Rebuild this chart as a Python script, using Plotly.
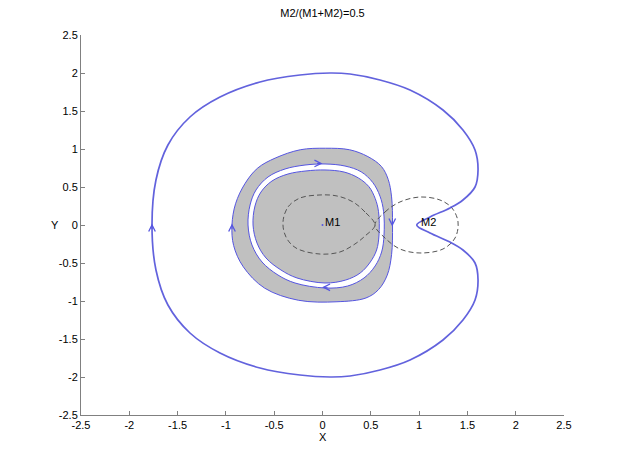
import math
import plotly.graph_objects as go

# ---- data ----
title_text = "M2/(M1+M2)=0.5"
tick_vals = [-2.5, -2, -1.5, -1, -0.5, 0, 0.5, 1, 1.5, 2, 2.5]
tick_text = ["-2.5", "-2", "-1.5", "-1", "-0.5", "0", "0.5", "1", "1.5", "2", "2.5"]

# large outer orbit (cusp at M2 -> top -> left -> bottom -> cusp)
orbit_x = [0.975, 1.113, 1.32, 1.454, 1.579, 1.61, 1.579, 1.454, 1.247, 0.906, 0.595, 0.285, 0.078,
           -0.233, -0.647, -1.061, -1.372, -1.6, -1.724, -1.765,
           -1.724, -1.6, -1.372, -1.061, -0.647, -0.233, 0.078, 0.285, 0.595, 0.906, 1.247, 1.454,
           1.579, 1.61, 1.579, 1.454, 1.32, 1.113, 0.975]
orbit_y = [0.0, 0.105, 0.224, 0.329, 0.5, 0.724, 0.987, 1.25, 1.513, 1.776, 1.908, 1.987, 2.0,
           1.974, 1.882, 1.684, 1.421, 1.053, 0.592, 0.0,
           -0.592, -1.053, -1.421, -1.684, -1.882, -1.974, -2.0, -1.987, -1.908, -1.776, -1.513, -1.25,
           -0.987, -0.724, -0.5, -0.329, -0.224, -0.105, 0.0]

# outer boundary of the grey filled region
gray_x = [-0.937, -0.90, -0.80, -0.67, -0.49, -0.23, 0.03, 0.28, 0.47, 0.61, 0.68, 0.715, 0.725,
          0.715, 0.67, 0.58, 0.45, 0.15, -0.25, -0.60, -0.82, -0.92, -0.937]
gray_y = [0.0, 0.28, 0.55, 0.75, 0.88, 0.99, 1.01, 0.99, 0.90, 0.77, 0.60, 0.37, 0.0,
          -0.39, -0.66, -0.85, -0.96, -1.01, -0.99, -0.83, -0.55, -0.27, 0.0]

# white band: outer edge
band_out_x = [-0.771, -0.75, -0.688, -0.564, -0.388, -0.181, 0.026, 0.233, 0.40, 0.52, 0.595, 0.632,
              0.637, 0.612, 0.545, 0.43, 0.26, 0.026, -0.285, -0.461, -0.626, -0.73, -0.771]
band_out_y = [0.0, 0.263, 0.461, 0.632, 0.737, 0.789, 0.803, 0.776, 0.70, 0.56, 0.38, 0.18,
              -0.132, -0.355, -0.539, -0.697, -0.803, -0.829, -0.763, -0.658, -0.487, -0.263, 0.0]
# white band: inner edge
band_in_x = [-0.719, -0.699, -0.637, -0.523, -0.357, -0.171, 0.026, 0.223, 0.37, 0.48, 0.545, 0.58,
             0.585, 0.56, 0.495, 0.39, 0.24, 0.026, -0.264, -0.43, -0.585, -0.678, -0.719]
band_in_y = [0.0, 0.25, 0.434, 0.579, 0.671, 0.711, 0.724, 0.697, 0.62, 0.505, 0.35, 0.175,
             -0.132, -0.329, -0.487, -0.632, -0.724, -0.763, -0.697, -0.592, -0.434, -0.237, 0.0]

# zero-velocity (dashed) curve, two lobes meeting at L1
lobe1_x = [0.543, 0.44, 0.316, 0.15, -0.026, -0.233, -0.357, -0.409, -0.378, -0.274, -0.026, 0.181, 0.336, 0.44, 0.543]
lobe1_y = [0.0, 0.171, 0.303, 0.382, 0.395, 0.355, 0.237, 0.039, -0.158, -0.303, -0.382, -0.355, -0.25, -0.145, 0.0]
lobe2_x = [0.543, 0.647, 0.802, 1.009, 1.216, 1.34, 1.403, 1.372, 1.247, 1.009, 0.802, 0.647, 0.543]
lobe2_y = [0.0, 0.171, 0.303, 0.368, 0.329, 0.224, 0.039, -0.171, -0.316, -0.368, -0.316, -0.171, 0.0]

# direction arrows on the trajectories (x, y, direction in degrees: 0=right, 90=up)
arrow_x = [0.0, -0.005, -0.937, 0.722, -1.765]
arrow_y = [0.81, -0.82, 0.02, -0.02, 0.02]
arrow_dir = [0, 180, 90, -90, 90]

# masses
mass_x = [0.0, 1.0]
mass_y = [0.0, 0.0]
mass_names = ["M1", "M2"]

BLUE = "rgb(85,85,225)"
ORBIT = "rgba(70,70,215,0.85)"
GRAY = "rgb(192,192,192)"
AXIS = "rgb(128,128,128)"
FONT = "Liberation Sans, Arial, Helvetica, sans-serif"

fig = go.Figure()

fig.add_trace(go.Scatter(x=gray_x, y=gray_y, mode="lines", fill="toself", fillcolor=GRAY,
                         line=dict(color=BLUE, width=1, shape="spline"), hoverinfo="skip"))
fig.add_trace(go.Scatter(x=band_out_x, y=band_out_y, mode="lines", fill="toself", fillcolor="white",
                         line=dict(color=BLUE, width=1, shape="spline"), hoverinfo="skip"))
fig.add_trace(go.Scatter(x=band_in_x, y=band_in_y, mode="lines", fill="toself", fillcolor=GRAY,
                         line=dict(color=BLUE, width=1, shape="spline"), hoverinfo="skip"))

for lx, ly in ((lobe1_x, lobe1_y), (lobe2_x, lobe2_y)):
    fig.add_trace(go.Scatter(x=lx, y=ly, mode="lines",
                             line=dict(color="rgb(85,85,85)", width=1, dash="5px,3px", shape="spline"),
                             hoverinfo="skip"))

fig.add_trace(go.Scatter(x=orbit_x, y=orbit_y, mode="lines",
                         line=dict(color=ORBIT, width=1.7, shape="spline"), hoverinfo="skip"))

fig.add_trace(go.Scatter(x=mass_x[:1], y=mass_y[:1], mode="markers",
                         marker=dict(symbol="circle", size=2, color=BLUE), hoverinfo="skip"))

annotations = []
# direction arrows as line-drawn chevrons
for axv, ayv, d in zip(arrow_x, arrow_y, arrow_dir):
    tail = 7
    annotations.append(dict(x=axv, y=ayv, xref="x", yref="y", text="", showarrow=True,
                            arrowhead=5, arrowsize=1.3, arrowwidth=1, arrowcolor=BLUE,
                            ax=-tail * math.cos(math.radians(d)), ay=tail * math.sin(math.radians(d))))
for mx, my, name in zip(mass_x, mass_y, mass_names):
    annotations.append(dict(x=mx, y=my, xref="x", yref="y", text=name, showarrow=False,
                            xanchor="left", yanchor="middle", xshift=0, yshift=3,
                            font=dict(family=FONT, size=11, color="black")))
annotations.append(dict(x=0.5, y=-0.058, xref="paper", yref="paper", text="X", showarrow=False,
                        xanchor="center", yanchor="middle", font=dict(family=FONT, size=11, color="black")))
annotations.append(dict(x=-0.054, y=0.5, xref="paper", yref="paper", text="Y", showarrow=False,
                        xanchor="center", yanchor="middle", font=dict(family=FONT, size=11, color="black")))

axis_common = dict(range=[-2.5, 2.5], tickmode="array", tickvals=tick_vals, ticktext=tick_text,
                   showgrid=False, zeroline=False, showline=True, linecolor=AXIS, linewidth=1,
                   ticks="inside", ticklen=4, tickcolor=AXIS, tickwidth=1, mirror=False,
                   tickfont=dict(family=FONT, size=11, color="black"), fixedrange=True)

fig.update_layout(
    width=623, height=467,
    margin=dict(l=81, r=59, t=35, b=52),
    paper_bgcolor="white", plot_bgcolor="white",
    showlegend=False,
    title=dict(text=title_text, x=0.5, xref="paper", xanchor="center",
               y=1 - 13 / 467, yref="container", yanchor="middle",
               font=dict(family=FONT, size=11, color="black")),
    xaxis=axis_common, yaxis=axis_common,
    annotations=annotations,
)

fig.write_html("out.html", config={"displayModeBar": False},
               post_script="document.body.style.margin='0';document.body.style.overflow='hidden';")
